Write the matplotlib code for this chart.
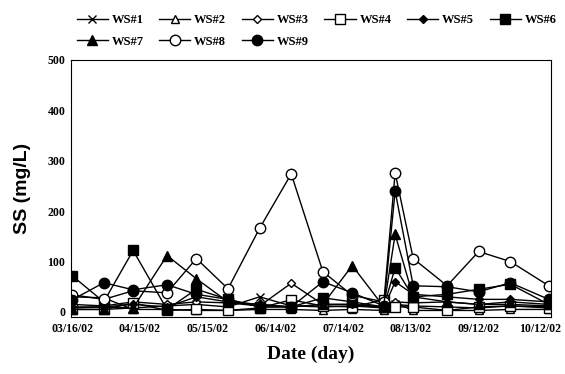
import numpy as np
import matplotlib
matplotlib.use('Agg')
import matplotlib.pyplot as plt
import matplotlib.dates as mdates
import matplotlib.transforms as mtransforms
from datetime import datetime, timedelta

plt.rcParams['font.family'] = ['Liberation Serif', 'DejaVu Serif']
plt.rcParams['font.weight'] = 'bold'

# sampling days after 03/16/02
dias = [0, 14, 27, 42, 55, 69, 83, 97, 111, 124, 138, 143, 151, 166, 180, 194, 211]
inicio = datetime(2002, 3, 16)
fechas = [inicio + timedelta(days=d) for d in dias]

ws1 = [8, 10, 8, 12, 15, 10, 30, 12, 10, 12, 8, 15, 12, 10, 8, 12, 10]
ws2 = [30, 28, 5, 5, 3, 3, 5, 5, 3, 5, 3, 18, 3, 3, 3, 5, 5]
ws3 = [15, 12, 20, 15, 20, 18, 12, 57, 15, 15, 10, 20, 18, 20, 15, 15, 12]
ws4 = [5, 5, 18, 3, 5, 3, 8, 24, 12, 10, 24, 10, 10, 3, 10, 12, 8]
ws5 = [10, 10, 15, 10, 30, 20, 15, 10, 15, 15, 8, 60, 35, 30, 25, 25, 20]
ws6 = [72, 20, 122, 5, 45, 25, 10, 10, 28, 20, 10, 88, 30, 35, 45, 55, 15]
ws7 = [5, 5, 8, 112, 66, 20, 15, 10, 15, 92, 10, 154, 30, 20, 15, 20, 15]
ws8 = [34, 25, 42, 38, 106, 46, 166, 274, 80, 33, 20, 276, 106, 52, 120, 100, 52]
ws9 = [24, 58, 44, 54, 35, 25, 10, 10, 60, 38, 12, 240, 52, 50, 40, 58, 25]

series = [ws1, ws2, ws3, ws4, ws5, ws6, ws7, ws8, ws9]
nombres = ['WS#1', 'WS#2', 'WS#3', 'WS#4', 'WS#5', 'WS#6', 'WS#7', 'WS#8', 'WS#9']
marcas = ['x', '^', 'D', 's', 'D', 's', '^', 'o', 'o']
rellenos = ['black', 'white', 'white', 'white', 'black', 'black', 'black', 'white', 'black']
tamanos = [6, 6, 4.5, 7, 4.5, 7, 6.5, 7.5, 7.5]

fig = plt.figure(figsize=(5.65, 3.74), dpi=100)
ax1 = fig.add_axes([71/565, 1 - 317/374, 480/565, 257/374])

for y, n, m, f, s in zip(series, nombres, marcas, rellenos, tamanos):
    ax1.plot(fechas, y, color='black', lw=1, marker=m, markersize=s,
             markerfacecolor=f, markeredgecolor='black', markeredgewidth=1,
             label=n)

ax1.set_ylim(-10, 500)
ax1.set_yticks([0, 100, 200, 300, 400, 500])
ax1.set_xlim(inicio - timedelta(days=0.5), inicio + timedelta(days=212))
ticks = [inicio + timedelta(days=30 * i) for i in range(8)]
ax1.set_xticks(ticks)
ax1.xaxis.set_major_formatter(mdates.DateFormatter('%m/%d/%y'))
ax1.tick_params(length=0, labelsize=8.5, pad=4)
for lab in ax1.get_xticklabels() + ax1.get_yticklabels():
    lab.set_fontweight('bold')

# pull the last date label a little inside the figure
ultimo = ax1.get_xticklabels()[-1]
ultimo.set_transform(ultimo.get_transform() +
                     mtransforms.ScaledTranslation(-6/100, 0, fig.dpi_scale_trans))

ax1.set_xlabel('Date (day)', fontsize=14, fontweight='bold', labelpad=8)
ax1.set_ylabel('SS (mg/L)', fontsize=14, fontweight='bold', labelpad=12,
               family=['Liberation Sans', 'DejaVu Sans'])

# legend filled by rows like the original
h, l = ax1.get_legend_handles_labels()
orden = [0, 6, 1, 7, 2, 8, 3, 4, 5]
fig.legend([h[i] for i in orden], [l[i] for i in orden],
           loc='upper left', bbox_to_anchor=(0.12, 0.985), ncol=6,
           frameon=False, fontsize=9, handlelength=2.5, columnspacing=1.25,
           handletextpad=0.3, labelspacing=0.75, borderaxespad=0.3)

fig.savefig('out.png', dpi=100)
